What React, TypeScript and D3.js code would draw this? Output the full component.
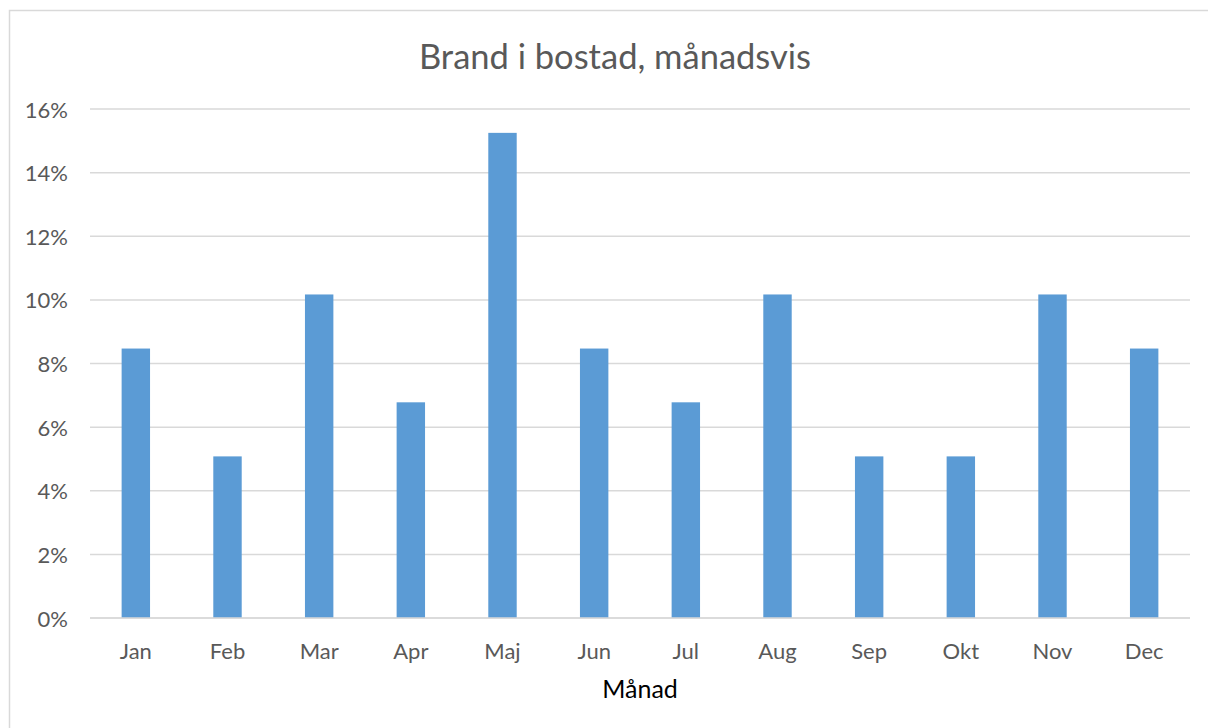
import React from 'react';
import * as d3 from 'd3';

const width = 1208;
const height = 728;
const margin = { top: 109, right: 18, bottom: 110, left: 90 };

// andel bränder per månad (x/59)
const months = ['Jan', 'Feb', 'Mar', 'Apr', 'Maj', 'Jun', 'Jul', 'Aug', 'Sep', 'Okt', 'Nov', 'Dec'];
const shares = [0.0847, 0.0508, 0.1017, 0.0678, 0.1525, 0.0847, 0.0678, 0.1017, 0.0508, 0.0508, 0.1017, 0.0847];
const yTicks = [0, 0.02, 0.04, 0.06, 0.08, 0.1, 0.12, 0.14, 0.16];

const font = 'Lato, "Open Sans", sans-serif';
const textColor = '#595959';

export default function App() {
  const xScale = d3.scaleBand<string>()
    .domain(months)
    .range([margin.left, width - margin.right])
    .paddingInner(0.69)
    .paddingOuter(0.345);
  const yScale = d3.scaleLinear().domain([0, 0.16]).range([height - margin.bottom, margin.top]);
  const fmt = d3.format('.0%');
  const plotCenter = (margin.left + width - margin.right) / 2;

  return (
    <svg width={width} height={height} style={{ position: 'absolute', left: 0, top: 0, background: '#fff' }}>
      <rect x={9.5} y={10.5} width={width} height={height} fill="#fff" stroke="#d9d9d9" strokeWidth={1.5} />
      <text x={615} y={55} textAnchor="middle" dominantBaseline="central" fontFamily={font} fontSize={34.5} fill={textColor}>
        Brand i bostad, månadsvis
      </text>
      {yTicks.map(t => (
        <g key={t}>
          <line x1={margin.left} x2={width - margin.right} y1={yScale(t)} y2={yScale(t)} stroke="#d9d9d9" strokeWidth={1.5} />
          <text x={68} y={yScale(t)} textAnchor="end" dominantBaseline="central" fontFamily={font} fontSize={22} fill={textColor}>
            {fmt(t)}
          </text>
        </g>
      ))}
      {months.map((m, i) => (
        <rect key={m} x={xScale(m)} y={yScale(shares[i])} width={xScale.bandwidth()} height={yScale(0) - yScale(shares[i])} fill="#5b9bd5" />
      ))}
      <line x1={margin.left} x2={width - margin.right} y1={yScale(0)} y2={yScale(0)} stroke="#d9d9d9" strokeWidth={1.5} />
      {months.map(m => (
        <text key={m} x={(xScale(m) || 0) + xScale.bandwidth() / 2} y={650} textAnchor="middle" dominantBaseline="central" fontFamily={font} fontSize={22} fill={textColor}>
          {m}
        </text>
      ))}
      <text x={plotCenter} y={688} textAnchor="middle" dominantBaseline="central" fontFamily={font} fontSize={25} fill="#000">
        Månad
      </text>
    </svg>
  );
}
